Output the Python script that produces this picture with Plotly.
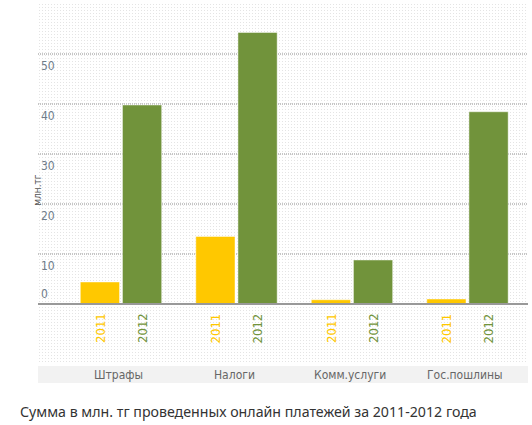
import plotly.graph_objects as go

categories = ["Штрафы", "Налоги", "Комм.услуги", "Гос.пошлины"]
years = ["2011", "2012"]
values_2011 = [4.4, 13.5, 0.85, 1.0]
values_2012 = [39.8, 54.3, 8.8, 38.45]
tick_values = [0, 10, 20, 30, 40, 50]

y_title = "млн.тг"
caption = "Сумма в млн. тг проведенных онлайн платежей за 2011-2012 года"

colors = {"2011": "#ffc800", "2012": "#71933b"}
narrow = "Liberation Sans Narrow, DejaVu Sans Condensed, sans-serif"

fig = go.Figure()

# dotted texture behind everything (base subplot)
fig.add_trace(go.Bar(
    x=[0.5], y=[1], width=[1], xaxis="x", yaxis="y",
    marker=dict(color="#c8c8c8", line=dict(width=0),
                pattern=dict(shape=".", size=3, solidity=0.07, fillmode="replace")),
    hoverinfo="skip", showlegend=False,
))

for year, vals in zip(years, [values_2011, values_2012]):
    fig.add_trace(go.Bar(
        x=categories, y=vals, name=year, xaxis="x2", yaxis="y2",
        marker=dict(color=colors[year], line=dict(color="rgba(255,255,255,0.45)", width=1)),
        showlegend=False,
    ))

x_range = [-0.7186, 3.524]
y_range = [-11.8, 60.2]

fig.update_layout(
    width=532, height=425,
    margin=dict(l=38, r=4, t=3, b=62),
    paper_bgcolor="white", plot_bgcolor="white",
    barmode="group", bargap=0.27, bargroupgap=0.07,
    xaxis=dict(range=[0, 1], visible=False, fixedrange=True),
    yaxis=dict(range=[0, 1], visible=False, fixedrange=True),
    xaxis2=dict(overlaying="x", range=x_range, visible=False, type="category"),
    yaxis2=dict(overlaying="y", range=y_range, visible=False),
    font=dict(family=narrow),
)

# gridlines and baseline
for v in tick_values[1:]:
    fig.add_shape(type="line", xref="paper", x0=0, x1=1, yref="y2", y0=v, y1=v,
                  line=dict(color="#8c8c8c", width=1, dash="1px,1px"), layer="below")
fig.add_shape(type="line", xref="paper", x0=0, x1=1, yref="y2", y0=0, y1=0,
              line=dict(color="#999999", width=2), layer="above")

# tick labels
for v in tick_values:
    fig.add_annotation(
        xref="paper", x=0, xanchor="left", xshift=1,
        yref="y2", y=v, yanchor="bottom" if v == 0 else "top",
        yshift=1 if v == 0 else -3,
        text=str(v), showarrow=False,
        font=dict(size=12, color="#6f7c8a", family=narrow),
    )

# year labels under each bar
for i, cat in enumerate(categories):
    for j, year in enumerate(years):
        fig.add_annotation(
            xref="x2", x=cat, xshift=-21 if j == 0 else 21,
            yref="y2", y=-1.4, yanchor="top",
            text=year, textangle=-90, showarrow=False,
            font=dict(size=13, color=colors[year], family=narrow),
        )

# category band
fig.add_shape(type="rect", xref="paper", x0=0, x1=1, yref="paper", y0=-0.0083, y1=-0.0556,
              fillcolor="#f2f2f2", line=dict(width=0), layer="below")
for cat in categories:
    fig.add_annotation(
        xref="x2", x=cat, xshift=-2, yref="paper", y=-0.032, yanchor="middle",
        text=cat, showarrow=False,
        font=dict(size=12, color="#666666", family=narrow),
    )

fig.add_annotation(
    xref="paper", x=0, xshift=-8, yref="paper", y=0.48,
    text=y_title, textangle=-90, showarrow=False,
    font=dict(size=10, color="#555555", family=narrow),
)

fig.add_annotation(
    xref="paper", x=-0.041, xanchor="left", yref="paper", y=-0.136, yanchor="middle",
    text=caption, showarrow=False,
    font=dict(size=14.2, color="#333333", family="Noto Sans, sans-serif"),
)

fig.write_html("out.html", config={"displayModeBar": False},
               post_script="document.body.style.margin='0px';")
